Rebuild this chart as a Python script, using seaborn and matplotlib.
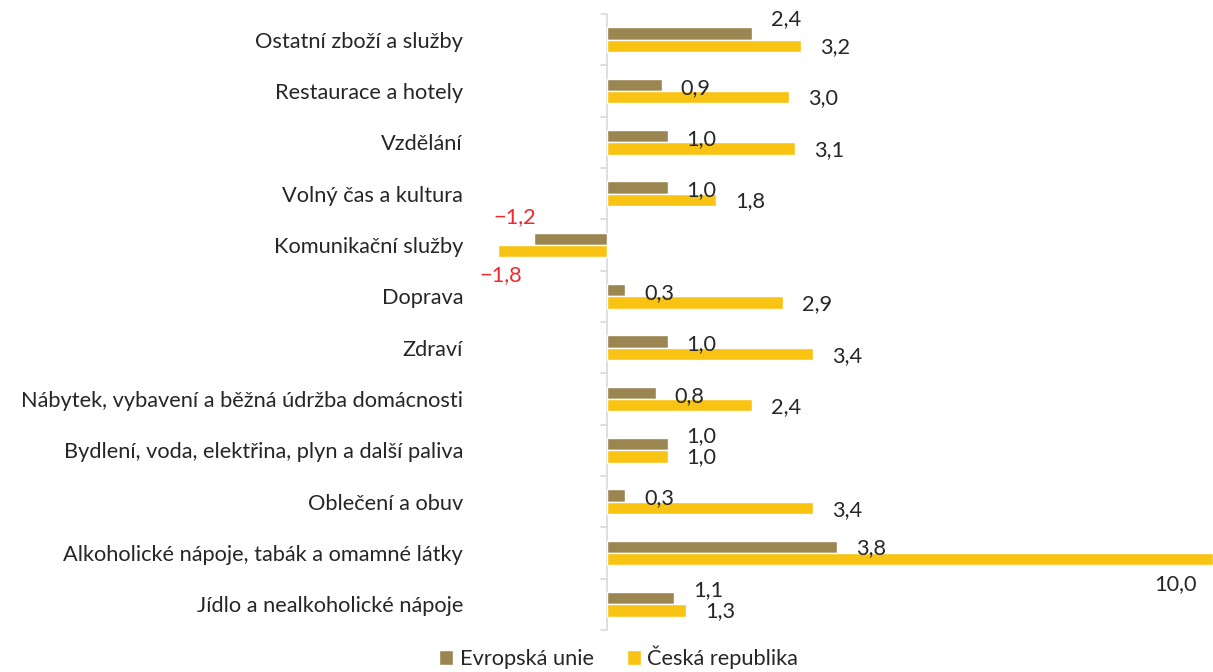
import matplotlib
matplotlib.use("Agg")
import matplotlib.pyplot as plt
from matplotlib.patches import Patch
import seaborn as sns
import pandas as pd

# categories top -> bottom
categories = ["Ostatní zboží a služby", "Restaurace a hotely", "Vzdělání",
              "Volný čas a kultura", "Komunikační služby", "Doprava", "Zdraví",
              "Nábytek, vybavení a běžná údržba domácnosti",
              "Bydlení, voda, elektřina, plyn a další paliva", "Oblečení a obuv",
              "Alkoholické nápoje, tabák a omamné látky", "Jídlo a nealkoholické nápoje"]
eu_values = [2.4, 0.9, 1.0, 1.0, -1.2, 0.3, 1.0, 0.8, 1.0, 0.3, 3.8, 1.1]
cz_values = [3.2, 3.0, 3.1, 1.8, -1.8, 2.9, 3.4, 2.4, 1.0, 3.4, 10.0, 1.3]
series_names = ["Evropská unie", "Česká republika"]

colors = ["#9B8651", "#F9C313"]

df = pd.DataFrame({
    "kategorie": categories * 2,
    "hodnota": eu_values + cz_values,
    "serie": [series_names[0]] * len(categories) + [series_names[1]] * len(categories),
})

sns.set_style("white")
plt.rcParams["font.family"] = ["Lato", "DejaVu Sans"]
FS = 15.7
PX = 72 / 100  # pixels -> points

fig = plt.figure(figsize=(12.13, 6.72), dpi=100)
ax = fig.add_axes([498 / 1213, 1 - 630 / 672, 1 - 498 / 1213, (630 - 14) / 672])

sns.barplot(data=df, x="hodnota", y="kategorie", hue="serie", order=categories,
            hue_order=series_names, palette=colors, orient="h", width=0.48,
            gap=0, saturation=1, legend=False, ax=ax)

ax.set_xlim(-1.8, 10.0)
ax.set_ylim(len(categories) - 0.5, -0.5)
ax.set_xlabel("")
ax.set_ylabel("")
ax.set_xticks([])
for s in ["top", "right", "bottom", "left"]:
    ax.spines[s].set_visible(False)

# vertical axis at zero with tick marks between categories
ax.axvline(0, color="#D9D9D9", lw=1.2, zorder=0)
ax.tick_params(axis="y", which="major", length=0, pad=35 * PX, labelsize=FS, labelcolor="#262626")
for b in [i - 0.5 for i in range(len(categories) + 1)]:
    ax.plot([-0.1, 0], [b, b], color="#D9D9D9", lw=1.2, clip_on=False)

# data labels: shifts in pixels (down positive), to mimic Excel placement
eu_shift = [-14, 3, 3, 3, -22, 3, 3, 3, -8, 3, 1, -8]
cz_shift = [1, 1, 2, 1, 24, 2, 2, 2, 1, 2, 25, 1]
for i, (e, c) in enumerate(zip(eu_values, cz_values)):
    for v, sh, off in [(e, eu_shift[i], -0.12), (c, cz_shift[i], 0.12)]:
        txt = f"{v:.1f}".replace(".", ",").replace("-", "\u2212")
        dy = -sh * PX
        if v < 0:
            dx = -20 if off < 0 else 3
            ax.annotate(txt, (v, i + off), xytext=(dx * PX, dy), textcoords="offset points",
                        ha="center", va="center", fontsize=FS, color="#F0282D")
        elif v >= 9.5:
            ax.annotate(txt, (v, i + off), xytext=(-16 * PX, dy), textcoords="offset points",
                        ha="right", va="center", fontsize=FS, color="#262626")
        else:
            ax.annotate(txt, (v, i + off), xytext=(19 * PX, dy), textcoords="offset points",
                        ha="left", va="center", fontsize=FS, color="#262626")

handles = [Patch(facecolor=colors[0]), Patch(facecolor=colors[1])]
fig.legend(handles, series_names, loc="lower center", bbox_to_anchor=(0.51, -0.025),
           ncol=2, frameon=False, fontsize=FS, handlelength=0.65, handleheight=0.65,
           handletextpad=0.3, columnspacing=1.5, labelcolor="#262626")

fig.savefig("out.png", dpi=100)
